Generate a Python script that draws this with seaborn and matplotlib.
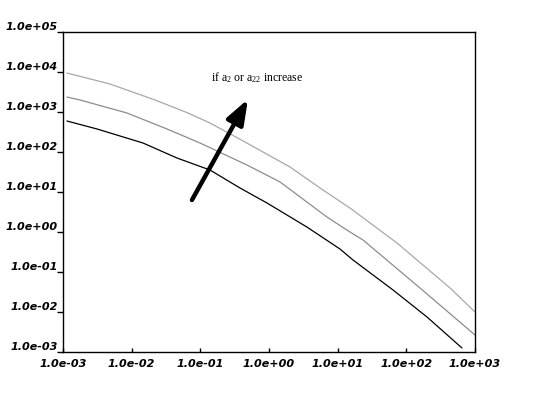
import matplotlib
matplotlib.use("Agg")
import matplotlib.pyplot as plt
import seaborn as sns
import pandas as pd
import numpy as np

# --- data (log-log axes) ---
x_low = [1.14e-3, 3.13e-3, 1.46e-2, 4.57e-2, 0.138, 0.378, 0.935, 3.57, 10.8, 16.7, 64.0, 200, 646]
y_low = [596, 376, 168, 70.8, 35.5, 12.6, 5.31, 1.33, 0.376, 0.200, 0.0355, 0.0075, 0.00126]

x_mid = [1.14e-3, 1.77e-3, 8.55e-3, 3.27e-2, 9.89e-2, 0.478, 1.45, 6.98, 15.1, 23.4, 158, 1000]
y_mid = [2371, 1995, 944, 376, 168, 47.3, 17.8, 2.37, 1.0, 0.631, 0.0398, 0.00266]

x_high = [1.14e-3, 4.83e-3, 2.19e-2, 6.61e-2, 0.138, 0.447, 2.02, 5.53, 15.1, 73.1, 433, 1000]
y_high = [9441, 5012, 1995, 944, 531, 178, 42.2, 12.6, 3.98, 0.531, 0.0398, 0.01]

series_names = ["low", "mid", "high"]
series_colors = {"low": "#000000", "mid": "#8c8c8c", "high": "#a8a8a8"}

x_ticks = [1e-3, 1e-2, 1e-1, 1e0, 1e1, 1e2, 1e3]
y_ticks = [1e-3, 1e-2, 1e-1, 1e0, 1e1, 1e2, 1e3, 1e4, 1e5]

annotation_text = r"if a$_2$ or a$_{22}$ increase"

frames = []
for name, xs, ys in zip(series_names, [x_low, x_mid, x_high], [y_low, y_mid, y_high]):
    frames.append(pd.DataFrame({"x": xs, "y": ys, "series": name}))
df = pd.concat(frames, ignore_index=True)

sns.set_style("white")
plt.rcParams["mathtext.fontset"] = "custom"
plt.rcParams["mathtext.rm"] = "Liberation Serif"
plt.rcParams["mathtext.it"] = "Liberation Serif:italic"

fig = plt.figure(figsize=(5.52, 3.93), dpi=100)
ax = fig.add_axes([63 / 552, 41 / 393, 412 / 552, 320 / 393])

sns.lineplot(data=df, x="x", y="y", hue="series", palette=series_colors,
             sort=False, estimator=None, linewidth=0.9, legend=False, ax=ax)

ax.set_xscale("log")
ax.set_yscale("log")
ax.set_xlim(1e-3, 1e3)
ax.set_ylim(1e-3, 1e5)
ax.set_xlabel("")
ax.set_ylabel("")
ax.minorticks_off()

ax.set_xticks(x_ticks)
ax.set_yticks(y_ticks)
ax.set_xticklabels([f"{v:.1e}" for v in x_ticks])
ax.set_yticklabels([f"{v:.1e}" for v in y_ticks])

tick_font = dict(family="DejaVu Sans", weight="bold", style="oblique", size=8)
for lab in ax.get_xticklabels() + ax.get_yticklabels():
    lab.set_fontproperties(matplotlib.font_manager.FontProperties(**tick_font))

ax.tick_params(axis="x", direction="in", length=3, width=1, pad=5, colors="black", bottom=True)
ax.tick_params(axis="y", direction="out", length=4, width=1, pad=0, colors="black", left=True)
for t in ax.yaxis.get_major_ticks():
    t.label1.set_verticalalignment("bottom")

for s in ax.spines.values():
    s.set_visible(True)
    s.set_color("black")
    s.set_linewidth(1.0)

# arrow and text
ax.annotate("", xy=(0.449, 0.79), xytext=(0.313, 0.475), xycoords="axes fraction",
            textcoords="axes fraction",
            arrowprops=dict(arrowstyle="-|>,head_length=1.5,head_width=0.55",
                            color="black", lw=3.2, shrinkA=0, shrinkB=0))
ax.text(0.472, 0.857, annotation_text, transform=ax.transAxes, ha="center", va="center",
        fontsize=8.5, family="Liberation Serif", color="black")

fig.savefig("out.png", dpi=100, facecolor="white")
